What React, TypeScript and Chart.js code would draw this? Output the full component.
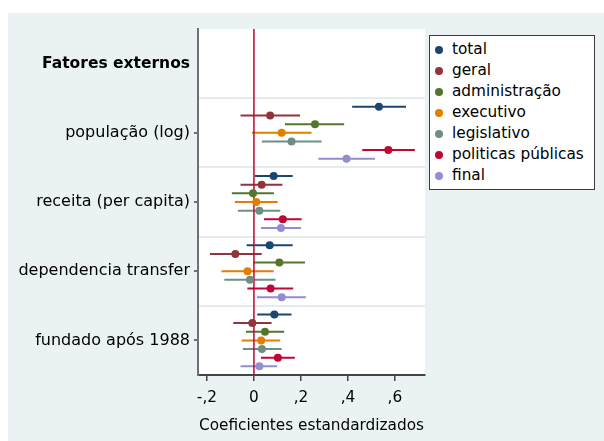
import { useEffect, useRef } from "react";
import { Chart, registerables } from "chart.js";

Chart.register(...registerables);

const FONT = "'DejaVu Sans', Verdana, sans-serif";

const groupHeader = "Fatores externos";
const categories = ["população (log)", "receita (per capita)", "dependencia transfer", "fundado após 1988"];
const seriesNames = ["total", "geral", "administração", "executivo", "legislativo", "politicas públicas", "final"];
const seriesColors = ["#1a476f", "#90353b", "#55752f", "#e37e00", "#6e8e84", "#c10534", "#938dd2"];

// coefficients and confidence intervals per category, in series order
const popEst = [0.532, 0.069, 0.26, 0.118, 0.16, 0.572, 0.394];
const popLo = [0.418, -0.057, 0.132, -0.009, 0.034, 0.461, 0.274];
const popHi = [0.647, 0.196, 0.384, 0.245, 0.288, 0.685, 0.515];

const recEst = [0.084, 0.033, -0.004, 0.01, 0.023, 0.123, 0.115];
const recLo = [0.004, -0.057, -0.094, -0.081, -0.068, 0.043, 0.03];
const recHi = [0.165, 0.121, 0.085, 0.101, 0.112, 0.203, 0.2];

const depEst = [0.067, -0.079, 0.108, -0.027, -0.017, 0.071, 0.118];
const depLo = [-0.031, -0.187, -0.003, -0.138, -0.126, -0.028, 0.013];
const depHi = [0.165, 0.033, 0.217, 0.084, 0.092, 0.167, 0.221];

const funEst = [0.087, -0.007, 0.047, 0.031, 0.034, 0.102, 0.023];
const funLo = [0.014, -0.088, -0.034, -0.052, -0.047, 0.03, -0.057];
const funHi = [0.16, 0.075, 0.129, 0.112, 0.118, 0.174, 0.099];

const xTickValues = [-0.2, 0, 0.2, 0.4, 0.6];
const xTickLabels = ["-,2", "0", ",2", ",4", ",6"];
const xTitle = "Coeficientes estandardizados";

export default function App() {
  const ref = useRef<HTMLCanvasElement>(null);

  useEffect(() => {
    const canvas = ref.current;
    if (!canvas) return;
    const groups = [
      { est: popEst, lo: popLo, hi: popHi },
      { est: recEst, lo: recLo, hi: recHi },
      { est: depEst, lo: depLo, hi: depHi },
      { est: funEst, lo: funLo, hi: funHi },
    ];
    const datasets: any[] = [];
    datasets.push({
      type: "scatter",
      label: "zero",
      data: [{ x: 0, y: -12 }, { x: 0, y: 28 }],
      showLine: true,
      borderColor: "#c10534",
      borderWidth: 1.5,
      pointRadius: 0,
      order: 2,
    });
    seriesNames.forEach((name, j) => {
      const color = seriesColors[j];
      const ci: any[] = [];
      groups.forEach((g, i) => {
        const y = i * 8 + j - 3;
        ci.push({ x: g.lo[j], y }, { x: g.hi[j], y }, { x: null, y: null });
      });
      datasets.push({
        type: "scatter",
        label: name + " ci",
        data: ci,
        showLine: true,
        spanGaps: false,
        borderColor: color,
        borderWidth: 2,
        pointRadius: 0,
        order: 3,
      });
      datasets.push({
        type: "scatter",
        label: name,
        data: groups.map((g, i) => ({ x: g.est[j], y: i * 8 + j - 3 })),
        pointRadius: 4,
        pointBackgroundColor: color,
        pointBorderWidth: 0,
        borderWidth: 0,
        order: 1,
      });
    });

    const yTickValues = [-8, -4, 0, 4, 8, 12, 16, 20, 24];
    const yLabel = (v: number) => {
      if (v % 8 !== 0) return "";
      const idx = v / 8;
      return idx === -1 ? groupHeader : categories[idx] ?? "";
    };

    const bgPlugin = {
      id: "bg",
      beforeDraw(chart: any) {
        const { ctx, chartArea } = chart;
        ctx.save();
        ctx.fillStyle = "#eaf2f3";
        ctx.fillRect(0, 0, chart.width, chart.height);
        ctx.fillStyle = "#ffffff";
        ctx.fillRect(chartArea.left, chartArea.top, chartArea.right - chartArea.left, chartArea.bottom - chartArea.top);
        ctx.restore();
      },
    };

    const chart = new Chart(canvas, {
      type: "scatter",
      data: { datasets },
      plugins: [bgPlugin],
      options: {
        animation: false,
        responsive: false,
        layout: { padding: { left: 0, right: 179, top: 16, bottom: 0 } },
        plugins: { legend: { display: false }, tooltip: { enabled: false } },
        scales: {
          x: {
            type: "linear",
            min: -0.238,
            max: 0.728,
            afterBuildTicks: (s: any) => {
              s.ticks = xTickValues.map((v) => ({ value: v }));
            },
            afterFit: (s: any) => {
              s.height = 66;
            },
            ticks: {
              callback: (_v: any, i: number) => xTickLabels[i],
              font: { family: FONT, size: 15.3 },
              color: "#000",
              padding: 8,
              maxRotation: 0,
              autoSkip: false,
            },
            grid: { drawOnChartArea: false, drawTicks: true, tickLength: 6, color: "#444", tickWidth: 1.5, lineWidth: 1.5 },
            border: { display: true, color: "#444", width: 2 },
            title: {
              display: true,
              text: xTitle,
              font: { family: FONT, size: 15.3 },
              color: "#000",
              padding: { top: 0, bottom: 6 },
            },
          },
          y: {
            type: "linear",
            min: -12,
            max: 28,
            reverse: true,
            afterBuildTicks: (s: any) => {
              s.ticks = yTickValues.map((v) => ({ value: v }));
            },
            afterFit: (s: any) => {
              s.width = 190;
            },
            ticks: {
              callback: (v: any) => yLabel(Number(v)),
              font: (c: any) =>
                c.tick && c.tick.value === -8
                  ? { family: FONT, size: 15.5, weight: "bold" }
                  : { family: FONT, size: 16 },
              color: "#000",
              padding: 4,
              autoSkip: false,
            },
            grid: {
              color: (c: any) => (c.tick && c.tick.value % 8 !== 0 ? "#e4ecef" : "rgba(0,0,0,0)"),
              tickColor: (c: any) =>
                c.tick && c.tick.value % 8 === 0 && c.tick.value !== -8 ? "#444" : "rgba(0,0,0,0)",
              lineWidth: 2,
              tickWidth: 1.5,
              tickLength: 4,
              drawTicks: true,
            },
            border: { display: true, color: "#707070", width: 2 },
          },
        },
      } as any,
    });
    return () => chart.destroy();
  }, []);

  return (
    <div style={{ position: "absolute", left: 8, top: 13, width: 596, height: 428, background: "#eaf2f3", fontFamily: FONT }}>
      <canvas ref={ref} width={596} height={428} style={{ display: "block", width: 596, height: 428 }} />
      <div
        style={{
          position: "absolute",
          left: 421,
          top: 22,
          width: 166,
          height: 155,
          boxSizing: "border-box",
          border: "1px solid #3c3c3c",
          background: "#fff",
          paddingTop: 3,
        }}
      >
        {seriesNames.map((name, j) => (
          <div key={name} style={{ display: "flex", alignItems: "center", height: 21, lineHeight: "21px" }}>
            <span
              style={{
                display: "inline-block",
                width: 8,
                height: 8,
                borderRadius: "50%",
                background: seriesColors[j],
                marginLeft: 5,
              }}
            />
            <span style={{ marginLeft: 9, fontSize: 15.3, color: "#000", whiteSpace: "nowrap" }}>{name}</span>
          </div>
        ))}
      </div>
    </div>
  );
}
